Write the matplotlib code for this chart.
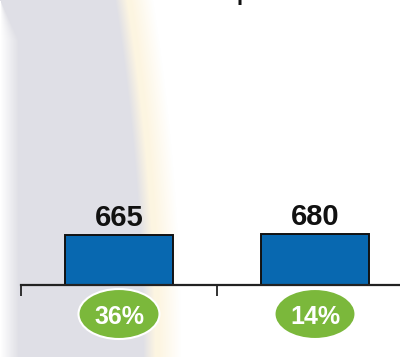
import numpy as np
import matplotlib
matplotlib.use("Agg")
import matplotlib.pyplot as plt
from matplotlib.patches import Ellipse
from matplotlib.transforms import blended_transform_factory

# ---- data ----
categories = ["A", "B"]
values = [665, 680]
value_labels = ["665", "680"]
pct_labels = ["36%", "14%"]

W, H, DPI = 400, 357, 100
fig = plt.figure(figsize=(W / DPI, H / DPI), dpi=DPI)

# ---- background (grey band with cream edge) ----
yy, xx = np.mgrid[0:H, 0:W].astype(float)
t = yy / H
right = 121 + 28 * (1 - (1 - t) ** 2)
left_w = 18 * np.clip(yy / 40.0, 0, 1)
grey = np.array([0.878, 0.878, 0.902])
cream = np.array([0.992, 0.962, 0.885])
white = np.array([1.0, 1.0, 1.0])
img = np.ones((H, W, 3))
g_left = np.clip(xx / np.maximum(left_w, 1e-6), 0, 1)
g_left = np.where(left_w < 1e-3, 1.0, g_left)
g_right = np.clip((right + 6 - xx) / 12.0, 0, 1)
gw = np.minimum(g_left, g_right)
c_w = np.clip((right + 32 - xx) / 22.0, 0, 1) * (1 - gw)
c_w = np.where(xx < right - 6, 0, c_w)
for k in range(3):
    img[..., k] = gw * grey[k] + c_w * cream[k] + (1 - gw - c_w) * white[k]
bg = fig.add_axes([0, 0, 1, 1], zorder=0)
bg.imshow(img, extent=(0, W, H, 0), aspect="auto", interpolation="bilinear")
bg.set_axis_off()

# ---- main axes ----
ax = fig.add_axes([21 / W, (H - 285) / H, 392 / W, 285 / H], zorder=1)
ax.patch.set_alpha(0)
x = np.arange(len(categories))
ax.bar(x, values, width=0.556, color="#0868b0", edgecolor="#111111",
       linewidth=1.4, zorder=2)
ax.set_xlim(-0.5, len(categories) - 0.5)
ax.set_ylim(0, 3800)
for s in ["top", "right", "left"]:
    ax.spines[s].set_visible(False)
ax.spines["bottom"].set_color("#222222")
ax.spines["bottom"].set_linewidth(1.6)
ax.set_yticks([])
ax.set_xticks(np.arange(-0.5, len(categories)), labels=[""] * (len(categories) + 1))
ax.tick_params(axis="x", direction="out", length=8, width=1.3, color="#222222")

for xi, v, lab in zip(x, values, value_labels):
    ax.annotate(lab, (xi, v), xytext=(0, 6.5), textcoords="offset points",
                ha="center", va="baseline", fontsize=21, fontweight="bold",
                family="Liberation Sans", color="#111111")

# one data unit on x spans 196 px
trans = blended_transform_factory(ax.transData, fig.transFigure)
for xi, lab in zip(x, pct_labels):
    e = Ellipse((xi, (H - 314) / H), width=81 / 196, height=50 / H,
                transform=trans, facecolor="#7bb83b", edgecolor="white",
                linewidth=1.5, clip_on=False, zorder=3)
    ax.add_patch(e)
    ax.text(xi, (H - 317) / H, lab, transform=trans, ha="center", va="center",
            fontsize=18, fontweight="bold", family="Liberation Sans",
            color="white", zorder=4)

# cut-off title descender at top
fig.text(236.5 / W, 1.0, "p", ha="left", va="baseline", fontsize=16,
         fontweight="bold", family="Liberation Sans", color="#111111")

fig.savefig("out.png", dpi=DPI)
